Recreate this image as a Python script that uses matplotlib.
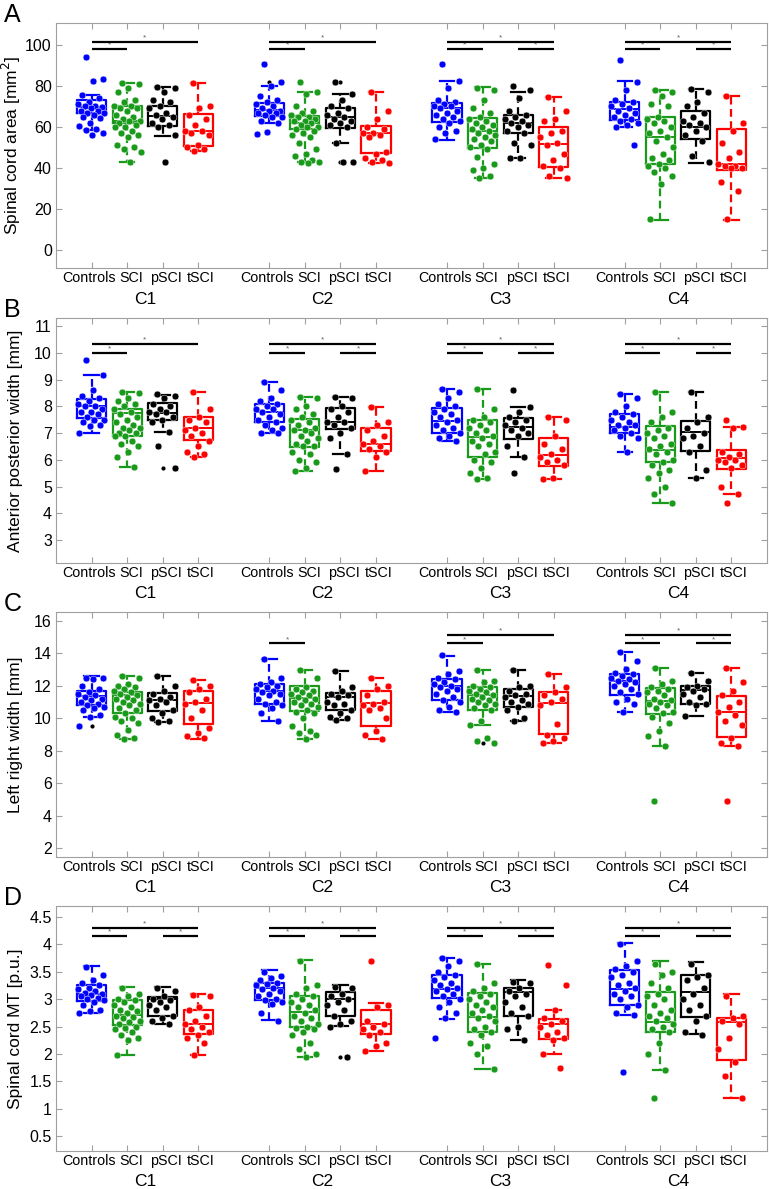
import numpy as np
import matplotlib
matplotlib.use('Agg')
from matplotlib import pyplot as plt
from matplotlib.ticker import FuncFormatter

plt.rcParams['font.family'] = ['Liberation Sans', 'DejaVu Sans']

groups = ['Controls', 'SCI', 'pSCI', 'tSCI']
levels = ['C1', 'C2', 'C3', 'C4']
colors = ['#0000ff', '#1a9a1a', '#000000', '#ff0000']

###########################################################################
# Panel A - spinal cord area [mm^2]
# box rows: q1, median, q3, lower whisker, upper whisker
###########################################################################
area_box = [
    [66.7, 69.5, 73.2, 58.5, 75.6], [61.8, 63.0, 70.2, 42.8, 81.5],
    [60.5, 65.5, 70.2, 55.6, 79.7], [50.7, 58.2, 66.2, 48.5, 81.5],
    [65.5, 68.3, 71.5, 62.0, 80.0], [58.9, 62.0, 65.5, 42.8, 77.2],
    [59.7, 65.0, 69.1, 52.0, 76.1], [47.2, 57.2, 60.5, 42.3, 77.2],
    [62.6, 69.1, 71.9, 53.7, 82.6], [49.9, 58.2, 64.2, 35.0, 79.3],
    [57.2, 61.8, 65.9, 44.7, 77.2], [40.7, 51.5, 60.2, 35.0, 74.5],
    [63.4, 68.6, 72.4, 59.8, 82.4], [41.8, 55.3, 64.7, 14.6, 78.0],
    [54.0, 60.2, 68.0, 42.6, 78.4], [39.0, 41.8, 58.9, 14.6, 75.3],
]
area_pts = [
    [94, 83.5, 82.5, 75.5, 74, 72, 71, 70, 70, 69.5, 69, 68, 68, 67, 67, 66, 65, 64.5, 62, 60.5, 59, 58.5, 57, 56],
    [81.5, 81, 79, 77, 73, 72, 70, 70, 69, 69, 68, 66, 65, 64, 63, 63, 62, 61, 60, 60, 58, 57, 56, 55, 51, 50, 49, 48, 43],
    [79.5, 79, 77, 73, 72, 70, 69, 67, 66, 65, 64, 62, 61, 60, 56, 43],
    [81.5, 70, 69, 66, 64, 61, 58, 58, 57, 56, 51, 50, 49, 48.5],
    [90.5, 82, 80, 75, 73, 72, 71, 70, 69, 68, 68, 67, 67, 66, 65, 65, 63, 62, 57.5, 56.5],
    [82, 77, 76, 70, 68, 67, 66, 65, 65, 64, 63, 63, 62, 61, 60, 60, 59, 58, 57, 56, 55, 52, 49, 47, 46, 44, 43, 43, 42.5],
    [82, 76, 73, 70, 69, 67, 66, 65, 64, 63, 62, 61, 60, 52, 43, 43],
    [77, 68, 64, 60, 59, 57, 57, 56, 55, 48, 47, 45, 44, 43, 42.5],
    [90.5, 82.5, 79, 73, 72, 71, 70, 70, 69, 68, 67, 66, 65, 64, 63, 62, 60, 58, 57, 54],
    [79, 78, 73, 69, 67, 65, 64, 63, 62, 61, 60, 59, 58, 57, 56, 55, 54, 53, 51, 50, 49, 45.5, 42, 40, 39, 36, 35],
    [80, 78, 74, 68, 66, 65, 64, 63, 62, 61, 60, 58, 57, 52, 51, 45, 45],
    [74.5, 68, 64, 63, 58, 57, 55, 52, 51, 47, 44, 41, 40, 36, 35],
    [92.5, 82, 78, 73, 72, 71, 70, 69, 68, 67, 66, 65, 64, 63, 62, 61, 60, 51],
    [78, 77, 75, 71, 70, 65, 64, 63, 62, 60, 58, 57, 55, 53, 50, 47, 45, 44, 42, 41, 40, 38, 36, 32, 15],
    [78.5, 77, 72, 70, 67, 65, 63, 62, 61, 60, 58, 56, 53, 46, 43],
    [75, 62, 58, 52, 48, 45, 42, 41, 41, 40, 40, 33, 29, 15],
]
# small black outlier marks that show at the box centre: (box index, value)
area_out = [(0, 56), (4, 82), (6, 82), (6, 43)]
area_sig = [[(0, 1), (0, 3)], [(0, 1), (0, 3)],
            [(0, 1), (0, 3), (2, 3)], [(0, 1), (0, 3), (2, 3)]]

###########################################################################
# Panel B - anterior posterior width [mm]
###########################################################################
ap_box = [
    [7.57, 8.00, 8.27, 7.01, 9.17], [6.90, 7.73, 7.90, 5.72, 8.55],
    [7.49, 7.76, 8.13, 7.05, 8.42], [6.74, 7.17, 7.61, 6.11, 8.54],
    [7.40, 7.80, 8.07, 6.99, 8.92], [6.49, 7.10, 7.52, 5.58, 8.33],
    [7.14, 7.40, 7.92, 6.21, 8.33], [6.33, 6.59, 7.20, 5.58, 7.98],
    [6.99, 7.45, 7.95, 6.70, 8.64], [6.09, 6.86, 7.49, 5.27, 8.64],
    [6.78, 7.24, 7.55, 6.09, 7.96], [5.77, 6.18, 6.83, 5.28, 7.61],
    [6.99, 7.24, 7.70, 6.30, 8.46], [5.90, 6.36, 7.26, 4.37, 8.52],
    [6.33, 7.05, 7.45, 5.33, 8.52], [5.65, 6.08, 6.36, 4.71, 7.21],
]
ap_pts = [
    [9.73, 9.17, 8.6, 8.4, 8.3, 8.2, 8.1, 8.0, 8.0, 7.9, 7.8, 7.8, 7.7, 7.6, 7.5, 7.5, 7.4, 7.3, 7.25, 7.01],
    [8.55, 8.5, 8.3, 8.2, 8.1, 8.0, 7.9, 7.8, 7.7, 7.6, 7.5, 7.4, 7.3, 7.2, 7.2, 7.1, 7.0, 7.0, 6.9, 6.9, 6.7, 6.6, 6.5, 6.3, 6.1, 5.72],
    [8.45, 8.4, 8.3, 8.1, 8.0, 7.9, 7.8, 7.8, 7.7, 7.6, 7.5, 7.4, 7.05, 6.5, 5.7],
    [8.54, 7.9, 7.6, 7.5, 7.4, 7.2, 7.1, 7.0, 6.9, 6.7, 6.5, 6.3, 6.2, 6.11],
    [8.92, 8.6, 8.3, 8.2, 8.1, 8.0, 7.9, 7.9, 7.8, 7.7, 7.6, 7.5, 7.4, 7.3, 7.2, 7.1, 7.0, 6.99],
    [8.35, 8.3, 8.0, 7.9, 7.7, 7.6, 7.5, 7.4, 7.3, 7.2, 7.1, 7.1, 7.0, 6.9, 6.8, 6.7, 6.6, 6.5, 6.5, 6.3, 6.2, 6.0, 5.9, 5.7, 5.58],
    [8.35, 8.3, 8.0, 7.9, 7.8, 7.6, 7.4, 7.4, 7.3, 7.2, 7.0, 6.8, 6.21, 5.65],
    [7.98, 7.4, 7.3, 7.1, 6.9, 6.7, 6.6, 6.5, 6.4, 6.3, 6.1, 5.58],
    [8.64, 8.55, 8.3, 8.1, 8.0, 7.9, 7.8, 7.7, 7.6, 7.5, 7.4, 7.3, 7.2, 7.1, 7.0, 6.9, 6.8, 6.7],
    [8.64, 7.9, 7.6, 7.5, 7.4, 7.3, 7.2, 7.1, 7.0, 6.9, 6.8, 6.7, 6.6, 6.5, 6.3, 6.2, 6.0, 5.9, 5.7, 5.5, 5.3, 5.27],
    [8.6, 7.96, 7.8, 7.6, 7.5, 7.4, 7.3, 7.2, 7.1, 7.0, 6.9, 6.5, 6.09, 5.52],
    [7.61, 7.5, 6.9, 6.6, 6.4, 6.2, 6.1, 6.0, 5.9, 5.8, 5.3, 5.28],
    [8.46, 8.3, 8.0, 7.8, 7.7, 7.6, 7.5, 7.4, 7.3, 7.3, 7.2, 7.1, 7.0, 6.9, 6.8, 6.3],
    [8.52, 7.8, 7.6, 7.4, 7.2, 7.1, 7.0, 6.9, 6.8, 6.6, 6.5, 6.4, 6.3, 6.2, 6.0, 5.9, 5.8, 5.6, 5.5, 5.3, 5.0, 4.72, 4.37],
    [8.52, 7.6, 7.4, 7.2, 7.0, 6.9, 6.8, 6.5, 6.3, 5.6, 5.33],
    [7.5, 7.21, 7.2, 6.3, 6.2, 6.1, 6.0, 6.0, 5.9, 5.8, 5.7, 5.0, 4.71, 4.4],
]
ap_out = [(2, 5.7)]
ap_sig = [[(0, 1), (0, 3)], [(0, 1), (0, 3), (2, 3)],
          [(0, 1), (0, 3), (2, 3)], [(0, 1), (0, 3), (2, 3)]]

###########################################################################
# Panel C - left right width [mm]
###########################################################################
lr_box = [
    [10.84, 11.39, 11.65, 10.08, 12.57], [10.33, 11.45, 11.60, 8.73, 12.60],
    [10.43, 11.14, 11.55, 9.76, 12.57], [9.67, 10.94, 11.65, 8.73, 12.37],
    [10.90, 11.65, 12.12, 9.82, 13.65], [10.43, 11.24, 11.96, 8.73, 12.94],
    [10.53, 11.30, 11.55, 9.92, 12.88], [9.55, 10.94, 11.70, 8.73, 12.47],
    [11.14, 12.00, 12.43, 10.39, 13.84], [10.53, 11.45, 11.92, 9.60, 12.94],
    [10.67, 11.35, 11.80, 9.82, 12.94], [9.04, 10.94, 11.59, 8.49, 12.73],
    [11.45, 12.27, 12.71, 10.37, 14.10], [10.27, 11.04, 11.86, 8.29, 13.08],
    [10.90, 11.75, 11.96, 10.16, 12.78], [8.84, 10.39, 11.39, 8.29, 13.08],
]
lr_pts = [
    [12.5, 12.45, 12.4, 12.0, 11.8, 11.6, 11.5, 11.4, 11.3, 11.2, 11.1, 11.0, 10.9, 10.8, 10.7, 10.6, 10.5, 10.2, 10.08, 9.55],
    [12.6, 12.5, 12.1, 12.0, 11.9, 11.8, 11.7, 11.6, 11.5, 11.4, 11.3, 11.2, 11.1, 11.0, 10.9, 10.8, 10.6, 10.5, 10.3, 10.1, 10.0, 9.8, 9.7, 9.3, 9.0, 8.8, 8.73],
    [12.57, 12.0, 11.7, 11.5, 11.3, 11.2, 11.1, 11.0, 10.8, 10.5, 10.3, 10.0, 9.8, 9.76],
    [12.37, 12.0, 11.8, 11.6, 11.2, 11.0, 10.9, 10.5, 10.0, 9.4, 9.1, 8.9, 8.8],
    [13.65, 12.5, 12.2, 12.1, 12.0, 11.9, 11.8, 11.7, 11.6, 11.5, 11.4, 11.2, 11.0, 10.9, 10.8, 10.6, 10.3, 9.82],
    [12.94, 12.5, 11.9, 11.8, 11.7, 11.6, 11.5, 11.4, 11.3, 11.2, 11.1, 11.0, 10.9, 10.8, 10.7, 10.5, 10.4, 10.3, 10.0, 9.5, 9.2, 9.1, 9.0, 8.73],
    [12.88, 11.9, 11.7, 11.5, 11.4, 11.3, 11.0, 10.9, 10.8, 10.5, 10.3, 10.1, 10.0, 9.92],
    [12.47, 12.0, 11.8, 11.4, 11.0, 10.9, 10.8, 10.6, 10.5, 10.0, 9.2, 9.0, 8.73],
    [13.9, 12.9, 12.7, 12.5, 12.4, 12.2, 12.1, 12.0, 11.9, 11.8, 11.7, 11.5, 11.3, 11.1, 11.0, 10.7, 10.5, 10.39],
    [12.94, 12.3, 12.2, 12.0, 11.9, 11.8, 11.7, 11.6, 11.5, 11.4, 11.3, 11.2, 11.1, 11.0, 10.9, 10.8, 10.6, 10.5, 9.8, 9.6, 8.8, 8.6, 8.5],
    [12.94, 12.0, 11.9, 11.7, 11.5, 11.4, 11.3, 11.1, 11.0, 10.9, 10.7, 10.5, 10.0, 9.82],
    [12.73, 11.9, 11.6, 11.4, 11.2, 11.0, 10.8, 9.65, 9.0, 8.8, 8.6, 8.49],
    [14.1, 13.5, 13.0, 12.8, 12.7, 12.6, 12.5, 12.4, 12.3, 12.2, 12.1, 12.0, 11.8, 11.6, 11.5, 11.2, 11.0, 10.9, 10.37],
    [13.08, 12.3, 12.1, 11.9, 11.8, 11.7, 11.6, 11.4, 11.2, 11.1, 11.0, 10.9, 10.8, 10.6, 10.4, 10.3, 10.1, 9.7, 9.2, 8.9, 8.29, 4.92],
    [12.78, 12.3, 12.0, 11.9, 11.8, 11.7, 11.5, 11.3, 11.0, 10.9, 10.8, 10.16],
    [13.08, 12.2, 11.7, 11.4, 11.0, 10.7, 10.4, 10.2, 9.8, 9.6, 8.8, 8.5, 8.29, 4.92],
]
lr_out = [(0, 9.5), (5, 8.7), (9, 8.5)]
lr_sig = [[], [(0, 1)], [(0, 1), (0, 3)], [(0, 1), (0, 3), (2, 3)]]

###########################################################################
# Panel D - spinal cord MT [p.u.]
###########################################################################
mt_box = [
    [2.97, 3.10, 3.25, 2.75, 3.61], [2.52, 2.72, 2.99, 1.98, 3.22],
    [2.69, 3.01, 3.04, 2.55, 3.22], [2.37, 2.54, 2.80, 1.98, 3.10],
    [2.98, 3.21, 3.30, 2.62, 3.53], [2.49, 2.76, 3.06, 1.95, 3.71],
    [2.69, 3.01, 3.13, 2.51, 3.25], [2.37, 2.54, 2.80, 2.06, 2.93],
    [3.02, 3.19, 3.44, 2.63, 3.76], [2.40, 2.68, 3.11, 1.72, 3.65],
    [2.69, 3.13, 3.21, 2.25, 3.35], [2.27, 2.55, 2.63, 2.00, 2.81],
    [2.90, 3.19, 3.53, 2.71, 4.03], [2.41, 2.59, 3.14, 1.70, 3.69],
    [2.68, 3.14, 3.45, 2.37, 3.68], [1.89, 2.59, 2.65, 1.19, 3.09],
]
mt_pts = [
    [3.58, 3.45, 3.35, 3.3, 3.25, 3.2, 3.18, 3.15, 3.12, 3.1, 3.08, 3.05, 3.02, 3.0, 2.98, 2.95, 2.9, 2.8, 2.78, 2.75],
    [3.2, 3.1, 3.05, 3.0, 2.98, 2.95, 2.9, 2.85, 2.8, 2.78, 2.75, 2.7, 2.68, 2.65, 2.6, 2.58, 2.55, 2.5, 2.48, 2.45, 2.4, 2.35, 2.3, 2.25, 1.98],
    [3.2, 3.15, 3.05, 3.0, 2.98, 2.95, 2.9, 2.85, 2.8, 2.7, 2.65, 2.6, 2.55],
    [3.08, 3.05, 2.85, 2.8, 2.7, 2.6, 2.55, 2.5, 2.45, 2.4, 2.35, 2.3, 2.2, 1.98],
    [3.5, 3.42, 3.38, 3.35, 3.3, 3.28, 3.25, 3.2, 3.18, 3.15, 3.1, 3.05, 3.0, 2.98, 2.95, 2.92, 2.75, 2.6],
    [3.7, 3.25, 3.2, 3.1, 3.05, 3.0, 2.95, 2.9, 2.85, 2.8, 2.75, 2.7, 2.65, 2.6, 2.55, 2.5, 2.48, 2.45, 2.4, 2.35, 2.2, 2.1, 2.0, 1.95],
    [3.22, 3.2, 3.1, 3.05, 3.0, 2.95, 2.9, 2.8, 2.7, 2.6, 2.55, 2.5, 1.95],
    [3.7, 2.9, 2.85, 2.6, 2.55, 2.5, 2.45, 2.4, 2.35, 2.2, 2.15, 2.05],
    [3.75, 3.7, 3.6, 3.5, 3.45, 3.4, 3.35, 3.3, 3.25, 3.2, 3.18, 3.15, 3.1, 3.05, 3.0, 2.95, 2.85, 2.75, 2.65, 2.3],
    [3.65, 3.3, 3.2, 3.15, 3.1, 3.05, 3.0, 2.95, 2.9, 2.85, 2.8, 2.75, 2.7, 2.65, 2.6, 2.5, 2.45, 2.4, 2.35, 2.2, 2.15, 2.0, 1.72],
    [3.32, 3.3, 3.2, 3.15, 3.1, 3.05, 2.95, 2.85, 2.75, 2.7, 2.5, 2.45, 2.25],
    [3.62, 3.25, 2.8, 2.65, 2.6, 2.55, 2.5, 2.4, 2.35, 2.3, 2.25, 2.0, 1.75],
    [4.0, 3.7, 3.6, 3.55, 3.5, 3.45, 3.4, 3.3, 3.25, 3.2, 3.15, 3.1, 3.05, 3.0, 2.9, 2.85, 2.75, 2.72, 1.68],
    [3.65, 3.5, 3.45, 3.3, 3.2, 3.1, 3.05, 3.0, 2.9, 2.8, 2.75, 2.7, 2.65, 2.6, 2.55, 2.5, 2.45, 2.4, 2.2, 2.0, 1.7, 1.2],
    [3.65, 3.45, 3.4, 3.35, 3.2, 3.1, 3.0, 2.9, 2.8, 2.7, 2.6, 2.4, 2.35],
    [3.05, 2.7, 2.65, 2.6, 2.55, 2.3, 2.1, 1.85, 1.6, 1.2],
]
mt_out = [(6, 1.95)]
mt_sig = [[(0, 1), (0, 3), (2, 3)]] * 4

###########################################################################
# Draw.
###########################################################################
panels = [
    ('A', area_box, area_pts, area_out, area_sig, 'Spinal cord area [mm$^2$]',
     (-8.8, 110.7), np.arange(0, 101, 20), (98.0, 101.3)),
    ('B', ap_box, ap_pts, ap_out, ap_sig, 'Anterior posterior width [mm]',
     (2.14, 11.3), np.arange(3, 12, 1), (9.98, 10.32)),
    ('C', lr_box, lr_pts, lr_out, lr_sig, 'Left right width [mm]',
     (1.47, 16.53), np.arange(2, 17, 2), (14.6, 15.1)),
    ('D', mt_box, mt_pts, mt_out, mt_sig, 'Spinal cord MT [p.u.]',
     (0.23, 4.7), np.arange(0.5, 4.6, 0.5), (4.15, 4.3)),
]

W, H = 769, 1189
fig = plt.figure(figsize=(W / 100, H / 100), dpi=100)
ax_tops = [23, 318, 612, 906]
ax_h = 245
frame = '#a0a0a0'
label_dx = [-2.5, 4, 3.5, 2.5]

for (letter, box, pts, outs, sig, ylab, ylim, yt, sig_y), top in zip(panels, ax_tops):
    ax = fig.add_axes([56 / W, 1 - (top + ax_h) / H, 711 / W, ax_h / H])
    positions = []
    for lvl in range(4):
        for g in range(4):
            k = lvl * 4 + g
            pos = lvl * 5 + g + 1
            positions.append(pos)
            q1, med, q3, lo, hi = box[k]
            st = dict(q1=q1, med=med, q3=q3, whislo=lo, whishi=hi)
            c = colors[g]
            ax.bxp([st], positions=[pos], widths=0.82, showfliers=False,
                   boxprops=dict(color=c, lw=1.6),
                   whiskerprops=dict(color=c, lw=1.6, linestyle=(0, (3.5, 2))),
                   capprops=dict(color=c, lw=1.6),
                   medianprops=dict(color=c, lw=1.4),
                   manage_ticks=False, zorder=2)
            vals = np.array(pts[k])
            n = len(vals)
            offs = ((np.arange(n) * 0.618034 + 0.31) % 1.0 - 0.5) * 0.78
            ax.scatter(pos + offs, vals, s=24, color=c, edgecolors='white',
                       linewidths=0.3, zorder=3)

    for k, v in outs:
        ax.plot(k // 4 * 5 + k % 4 + 1, v, marker='.', ms=4, color='k',
                zorder=2.5, ls='none')

    # significance bars
    for lvl in range(4):
        for a, b in sig[lvl]:
            y = sig_y[1] if (b - a) == 3 else sig_y[0]
            x0, x1 = lvl * 5 + a + 1, lvl * 5 + b + 1
            ax.plot([x0, x1], [y, y], color='k', lw=1.6, zorder=4,
                    solid_capstyle='butt')
            ax.annotate('*', ((x0 + x1) / 2, y), xytext=(0, 0.3),
                        textcoords='offset points', ha='center', va='bottom',
                        fontsize=6, color='#606060')

    ax.set_xlim(0, 20)
    ax.set_ylim(*ylim)
    ax.set_yticks(yt)
    ax.yaxis.set_major_formatter(FuncFormatter(lambda v, p: '%g' % v))
    ax.set_xticks(positions)
    ax.set_xticklabels([])
    ax.tick_params(axis='y', labelsize=11.5, pad=3)
    ax.tick_params(direction='in', length=4, width=0.8, color=frame,
                   top=True, right=True)
    for sp in ax.spines.values():
        sp.set_color(frame)
        sp.set_linewidth(0.8)
    ax.set_ylabel(ylab, fontsize=12.5)
    ax.yaxis.set_label_coords(-0.046, 0.5)
    for i, pos in enumerate(positions):
        ax.annotate(groups[i % 4], (pos, 0), xycoords=('data', 'axes fraction'),
                    xytext=(label_dx[i % 4], -10), textcoords='offset pixels',
                    ha='center', va='center', fontsize=10.3)
    for lvl in range(4):
        ax.annotate(levels[lvl], (lvl * 5 + 2.5, 0), xycoords=('data', 'axes fraction'),
                    xytext=(0, -31), textcoords='offset pixels',
                    ha='center', va='center', fontsize=12.5)
    fig.text(4 / W, 1 - (top - 8) / H, letter, fontsize=18,
             ha='left', va='center')

fig.savefig('out.png', dpi=100)
